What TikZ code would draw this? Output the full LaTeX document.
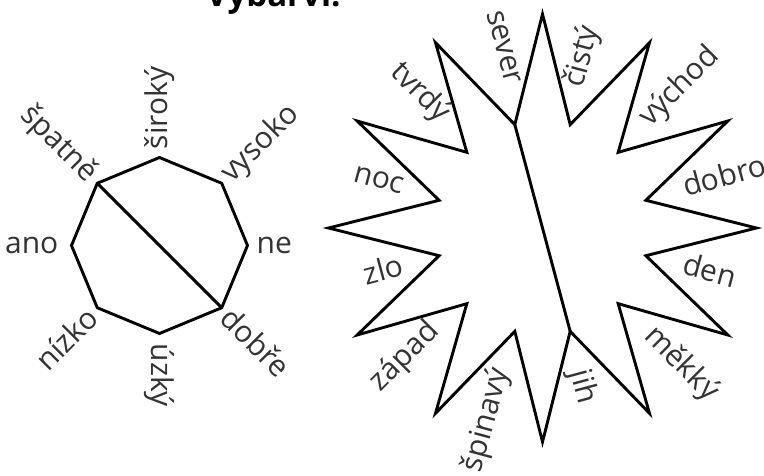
\documentclass[tikz,border=0pt]{standalone}
\usepackage{fontspec}
\setmainfont{Open Sans}
\definecolor{txt}{HTML}{333333}
\begin{document}
\begin{tikzpicture}[x=1pt,y=1pt,
  lab/.style={inner sep=0pt, text=txt, font=\fontsize{30}{32}\selectfont},
  shape line/.style={draw=black, line width=2.9pt, line join=miter, miter limit=20}]
\path[use as bounding box] (0,0) rectangle (764,475);
% title (mostly cut off at the top)
\node[inner sep=0pt, anchor=base west, text=black, font=\bfseries\fontsize{33}{35}\selectfont] (title) at (206,468) {Vybarvi.};
% ---------- octagon ----------
\coordinate (oc) at (159.5,229.5);
\foreach \i in {0,...,7} \coordinate (o\i) at ([shift={(\i*45:88)}]oc);
\draw[shape line] (o0)--(o1)--(o2)--(o3)--(o4)--(o5)--(o6)--(o7)--cycle;
\draw[shape line] (o3)--(o7);
\node[lab, anchor=west, rotate=0]   (ne)     at ([shift={(0:97)}]oc)   {ne};
\node[lab, anchor=west, rotate=45]  (vysoko) at ([shift={(45:95)}]oc)  {vysoko};
\node[lab, anchor=west, rotate=90]  (siroky) at ([shift={(90:96)}]oc)  {široký};
\node[lab, anchor=east, rotate=-45] (spatne) at ([shift={(135:95)}]oc) {špatně};
\node[lab, anchor=east, rotate=0]   (ano)    at ([shift={(180:101)}]oc) {ano};
\node[lab, anchor=east, rotate=45]  (nizko)  at ([shift={(225:95)}]oc) {nízko};
\node[lab, anchor=west, rotate=-90] (uzky)   at ([shift={(270:98)}]oc) {úzký};
\node[lab, anchor=west, rotate=-45] (dobre)  at ([shift={(315:95)}]oc) {dobře};
% ---------- star ----------
\coordinate (sc) at (542.5,247);
\foreach \k in {0,...,11} {
  \coordinate (s\k) at ([shift={(90+30*\k:214)}]sc);
  \coordinate (i\k) at ([shift={(105+30*\k:107)}]sc);
}
\draw[shape line] (s0)--(i0)--(s1)--(i1)--(s2)--(i2)--(s3)--(i3)--(s4)--(i4)--(s5)--(i5)
  --(s6)--(i6)--(s7)--(i7)--(s8)--(i8)--(s9)--(i9)--(s10)--(i10)--(s11)--(i11)--cycle;
\draw[shape line] (i0)--(i6);
\node[lab, rotate=-75] (sever)   at (504,428) {sever};
\node[lab, rotate=75]  (cisty)   at (583,418) {čistý};
\node[lab, rotate=45]  (vychod)  at (680,388) {východ};
\node[lab, rotate=15]  (dobro)   at (724,300) {dobro};
\node[lab, rotate=-15] (den)     at (710,205) {den};
\node[lab, rotate=-45] (mekky)   at (681,111) {měkký};
\node[lab, rotate=-75] (jih)     at (582,88)  {jih};
\node[lab, rotate=75]  (spinavy) at (487,55)  {špinavý};
\node[lab, rotate=45]  (zapad)   at (405,118) {západ};
\node[lab, rotate=15]  (zlo)     at (383,206) {zlo};
\node[lab, rotate=-15] (noc)     at (379,295) {noc};
\node[lab, rotate=-45] (tvrdy)   at (420,382) {tvrdý};
\end{tikzpicture}
\end{document}
